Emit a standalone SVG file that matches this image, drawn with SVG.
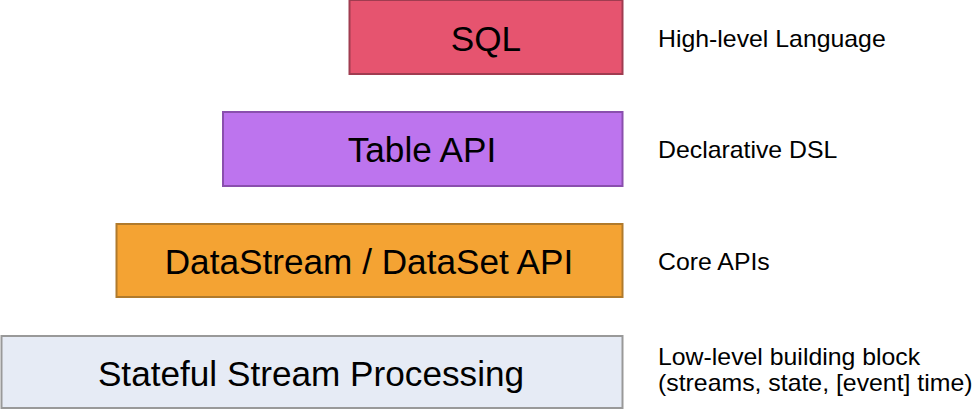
<svg xmlns="http://www.w3.org/2000/svg" width="974" height="410" viewBox="0 0 974 410">
<style>
.box{stroke-width:2}
.t{font-family:"Liberation Sans",Arial,sans-serif;fill:#000}
.big{font-size:34.5px;text-anchor:middle}
.lab{font-size:23px}
</style>
<rect width="974" height="410" fill="#fff"/>
<g id="sql">
<rect class="box" x="349.5" y="0" width="273" height="74" fill="#e6546f" stroke="#a03c50"/>
<text class="t big" x="486" y="51" transform="translate(486 0) scale(1.02 1) translate(-486 0)">SQL</text>
</g>
<g id="table-api">
<rect class="box" x="223" y="112" width="399.5" height="74" fill="#bd74ee" stroke="#8a4fae"/>
<text class="t big" x="422" y="162" transform="translate(422 0) scale(1.02 1) translate(-422 0)">Table API</text>
</g>
<g id="datastream">
<rect class="box" x="116.5" y="224" width="506" height="73" fill="#f4a333" stroke="#b07a2c"/>
<text class="t big" x="369" y="274" transform="translate(369 0) scale(1.02 1) translate(-369 0)">DataStream / DataSet API</text>
</g>
<g id="stateful">
<rect class="box" x="1.5" y="336" width="621" height="72" fill="#e6ebf5" stroke="#999"/>
<text class="t big" x="311" y="386" transform="translate(311 0) scale(1.02 1) translate(-311 0)">Stateful Stream Processing</text>
</g>
<g id="labels" transform="translate(658 0) scale(1.08 1)">
<text class="t lab" x="0" y="47">High-level Language</text>
<text class="t lab" x="0" y="158">Declarative DSL</text>
<text class="t lab" x="0" y="270">Core APIs</text>
<text class="t lab" x="0" y="365">Low-level building block</text>
<text class="t lab" x="0" y="391">(streams, state, [event] time)</text>
</g>
<g id="connectors"/>
</svg>
